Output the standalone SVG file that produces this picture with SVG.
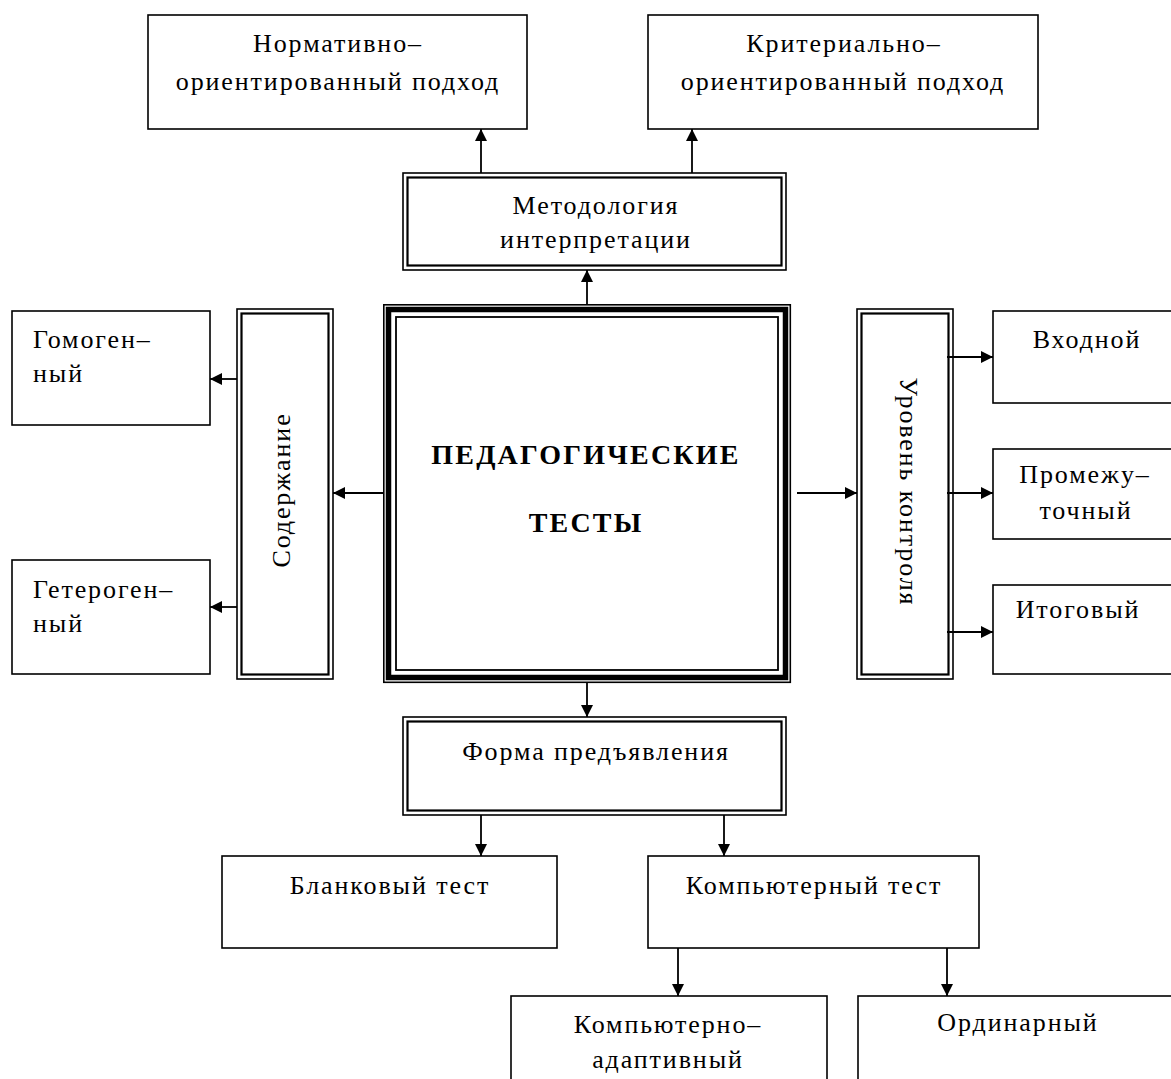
<svg xmlns="http://www.w3.org/2000/svg" width="1171" height="1079" viewBox="0 0 1171 1079">
<style>
.box{fill:#fff;stroke:#000;stroke-width:1.6}
.inr{fill:none;stroke:#000;stroke-width:2.2}
.thk{fill:none;stroke:#000;stroke-width:5.5}
.thn{fill:none;stroke:#000;stroke-width:1.8}
.t{font-family:"Liberation Serif","Times New Roman",serif;font-size:26px;letter-spacing:1.9px;fill:#000}
.m{text-anchor:middle}
.b{font-weight:bold;font-size:28px;letter-spacing:2.2px}
.c line{stroke:#000;stroke-width:1.8;marker-end:url(#ah)}
</style>
<defs>
<marker id="ah" markerUnits="userSpaceOnUse" markerWidth="12" markerHeight="12" refX="12" refY="6" orient="auto"><path d="M0,0 L12,6 L0,12 z" fill="#000"/></marker>
</defs>
<rect width="1171" height="1079" fill="#fff"/>

<g id="normativ">
<rect class="box" x="148" y="15" width="379" height="114"/>
<text class="t m" x="338" y="52">Нормативно–</text>
<text class="t m" x="338" y="90">ориентированный подход</text>
</g>

<g id="kriterial">
<rect class="box" x="648" y="15" width="390" height="114"/>
<text class="t m" x="844" y="52">Критериально–</text>
<text class="t m" x="843" y="90">ориентированный подход</text>
</g>

<g id="metodologia">
<rect class="box" x="403" y="173" width="383" height="97"/>
<rect class="inr" x="407.5" y="177.5" width="374" height="88"/>
<text class="t m" x="596" y="214">Методология</text>
<text class="t m" x="596" y="248">интерпретации</text>
</g>

<g id="central">
<rect class="box" x="383.8" y="304.8" width="406.5" height="377.5"/>
<rect class="thk" x="388.5" y="309.5" width="397" height="368"/>
<rect class="thn" x="396" y="317" width="382" height="353"/>
<text class="t m b" x="586" y="464">ПЕДАГОГИЧЕСКИЕ</text>
<text class="t m b" x="586" y="532">ТЕСТЫ</text>
</g>

<g id="soderzhanie">
<rect class="box" x="237" y="309" width="96" height="370"/>
<rect class="inr" x="241.5" y="313.5" width="87" height="361"/>
<text class="t m" transform="translate(290,490) rotate(-90)">Содержание</text>
</g>

<g id="gomogen">
<rect class="box" x="12" y="311" width="198" height="114"/>
<text class="t" x="33" y="348">Гомоген–</text>
<text class="t" x="33" y="382">ный</text>
</g>

<g id="geterogen">
<rect class="box" x="12" y="560" width="198" height="114"/>
<text class="t" x="33" y="598">Гетероген–</text>
<text class="t" x="33" y="632">ный</text>
</g>

<g id="uroven">
<rect class="box" x="857" y="309" width="96" height="370"/>
<rect class="inr" x="861.5" y="313.5" width="87" height="361"/>
<text class="t m" transform="translate(900,492) rotate(90)">Уровень контроля</text>
</g>

<g id="vhodnoy">
<rect class="box" x="993" y="311" width="190" height="92"/>
<text class="t m" x="1087" y="348">Входной</text>
</g>

<g id="promezh">
<rect class="box" x="993" y="449" width="190" height="90"/>
<text class="t m" x="1085" y="483">Промежу–</text>
<text class="t m" x="1086" y="519">точный</text>
</g>

<g id="itog">
<rect class="box" x="993" y="585" width="190" height="89"/>
<text class="t m" x="1078" y="618">Итоговый</text>
</g>

<g id="forma">
<rect class="box" x="403" y="717" width="383" height="98"/>
<rect class="inr" x="407.5" y="721.5" width="374" height="89"/>
<text class="t m" x="596" y="760">Форма предъявления</text>
</g>

<g id="blank">
<rect class="box" x="222" y="856" width="335" height="92"/>
<text class="t m" x="390" y="894">Бланковый тест</text>
</g>

<g id="komp">
<rect class="box" x="648" y="856" width="331" height="92"/>
<text class="t m" x="814" y="894">Компьютерный тест</text>
</g>

<g id="adapt">
<rect class="box" x="511" y="996" width="316" height="100"/>
<text class="t m" x="668" y="1033">Компьютерно–</text>
<text class="t m" x="668" y="1068">адаптивный</text>
</g>

<g id="ordinar">
<rect class="box" x="858" y="996" width="330" height="100"/>
<text class="t m" x="1018" y="1031">Ординарный</text>
</g>

<g id="connectors" class="c">
<line x1="587" y1="304" x2="587" y2="270"/>
<line x1="481" y1="173" x2="481" y2="129"/>
<line x1="692" y1="173" x2="692" y2="129"/>
<line x1="383" y1="493" x2="333" y2="493"/>
<line x1="237" y1="379" x2="210" y2="379"/>
<line x1="237" y1="607" x2="210" y2="607"/>
<line x1="797" y1="493" x2="857" y2="493"/>
<line x1="947" y1="357" x2="993" y2="357"/>
<line x1="947" y1="493" x2="993" y2="493"/>
<line x1="947" y1="632" x2="993" y2="632"/>
<line x1="587" y1="683" x2="587" y2="717"/>
<line x1="481" y1="815" x2="481" y2="856"/>
<line x1="724" y1="815" x2="724" y2="856"/>
<line x1="678" y1="948" x2="678" y2="996"/>
<line x1="947" y1="948" x2="947" y2="996"/>
</g>
</svg>
